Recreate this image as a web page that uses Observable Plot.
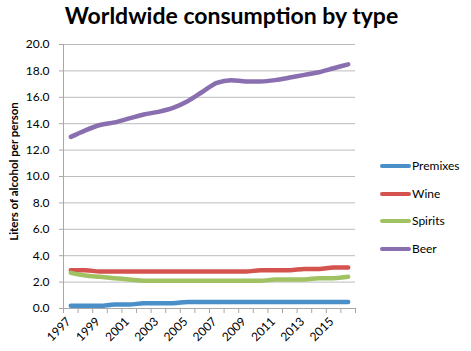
<!DOCTYPE html>
<html><head><meta charset="utf-8">
<script src="https://cdn.jsdelivr.net/npm/d3@7"></script>
<script src="https://cdn.jsdelivr.net/npm/@observablehq/plot@0.6"></script>
<style>
body{margin:0;background:#fff;}
#wrap{position:relative;width:471px;height:351px;font-family:Lato,"Open Sans",sans-serif;}
#title{position:absolute;left:0;width:463px;top:1px;line-height:normal;text-align:center;font-weight:bold;font-size:23px;color:#000;}
#legend{position:absolute;left:380px;top:0;font-size:12px;color:#000;}
.li{position:absolute;white-space:nowrap;}
.sw{position:absolute;left:0;width:31px;height:4px;border-radius:2px;}
.lb{position:absolute;left:32px;top:-8px;}
svg text{font-family:Lato,"Open Sans",sans-serif;}
</style></head>
<body><div id="wrap"><div id="title">Worldwide consumption by type</div><div id="legend"></div></div>
<script>
const years = [1997,1998,1999,2000,2001,2002,2003,2004,2005,2006,2007,2008,2009,2010,2011,2012,2013,2014,2015,2016];
const premixes = [0.2,0.2,0.2,0.3,0.3,0.4,0.4,0.4,0.5,0.5,0.5,0.5,0.5,0.5,0.5,0.5,0.5,0.5,0.5,0.5];
const wine = [2.9,2.9,2.8,2.8,2.8,2.8,2.8,2.8,2.8,2.8,2.8,2.8,2.8,2.9,2.9,2.9,3.0,3.0,3.1,3.1];
const spirits = [2.7,2.5,2.4,2.3,2.2,2.1,2.1,2.1,2.1,2.1,2.1,2.1,2.1,2.1,2.2,2.2,2.2,2.3,2.3,2.4];
const beer = [13.0,13.5,13.9,14.1,14.4,14.7,14.9,15.2,15.7,16.4,17.1,17.3,17.2,17.2,17.3,17.5,17.7,17.9,18.2,18.5];
const seriesNames = ["Premixes","Wine","Spirits","Beer"];
const seriesColors = ["#4a8fc8","#d4534f","#a0c263","#8a6fb0"];
const yTicks = [0,2,4,6,8,10,12,14,16,18,20];
const xLabelYears = [1997,1999,2001,2003,2005,2007,2009,2011,2013,2015];

const seriesValues = [premixes, wine, spirits, beer];
const data = [];
seriesNames.forEach((s,k)=>years.forEach((y,i)=>data.push({series:s, year:y, value:seriesValues[k][i]})));
const bounds = years.map(y=>y-0.5).concat([years[years.length-1]+0.5]);

const chart = Plot.plot({
  width:471, height:351,
  marginLeft:63, marginRight:116, marginTop:44, marginBottom:43,
  x:{domain:[years[0]-0.5, years[years.length-1]+0.5]},
  y:{domain:[0,20]},
  color:{domain:seriesNames, range:seriesColors},
  marks:[
    Plot.ruleY(yTicks.filter(d=>d>0), {stroke:"#bcbcbc", strokeWidth:1}),
    Plot.ruleY([0], {stroke:"#a8a8a8", strokeWidth:1}),
    Plot.ruleX([years[0]-0.5], {stroke:"#a8a8a8", strokeWidth:1}),
    Plot.axisY({ticks:yTicks, tickSize:4, tickPadding:10, tickFormat:d=>d.toFixed(1), stroke:"#a8a8a8", fontSize:12, fill:"#000", label:null}),
    Plot.axisX({ticks:bounds, tickSize:5, tickFormat:()=>"", stroke:"#a8a8a8", label:null}),
    Plot.axisX({ticks:xLabelYears, tickSize:0, tickPadding:11, dx:-2, tickRotate:-45, tickFormat:d=>String(d), fontSize:12, fill:"#000", label:null}),
    Plot.text(["Liters of alcohol per person"], {frameAnchor:"left", textAnchor:"middle", dx:-49, dy:-5, rotate:-90, fontWeight:"bold", fontSize:11.5, fill:"#000"}),
    Plot.line(data, {x:"year", y:"value", stroke:"series", z:"series", strokeWidth:4.5, strokeLinecap:"round", strokeLinejoin:"round", curve:"monotone-x"})
  ]
});
document.getElementById("wrap").prepend(chart);
chart.style.position="absolute"; chart.style.left="0"; chart.style.top="0";

const legend = document.getElementById("legend");
const legendY = [166,193.5,221,249];
seriesNames.forEach((s,k)=>{
  const d=document.createElement("div"); d.className="li"; d.style.top=legendY[k]+"px";
  d.innerHTML=`<div class="sw" style="background:${seriesColors[k]};top:-2px"></div><div class="lb">${s}</div>`;
  legend.appendChild(d);
});
</script></body></html>
